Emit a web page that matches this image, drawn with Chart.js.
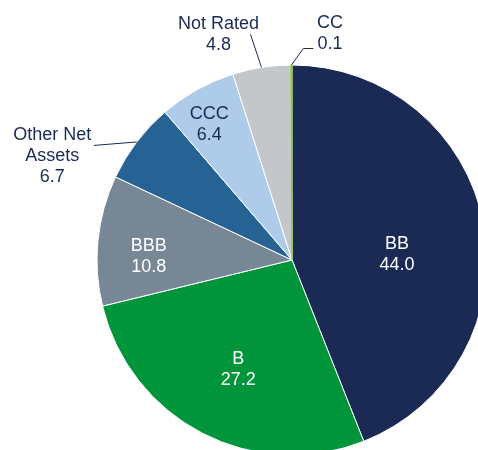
<!DOCTYPE html>
<html>
<head>
<meta charset="utf-8">
<script src="https://cdn.jsdelivr.net/npm/chart.js@4"></script>
<style>
  html, body { margin: 0; padding: 0; background: #fff; overflow: hidden; }
  #wrap { position: absolute; left: 0; top: 0; }
</style>
</head>
<body>
<div id="wrap"><canvas id="ratings" width="500" height="470"></canvas></div>
<script>
// credit quality breakdown (%), clockwise from 12 o'clock
var categories = ['BB', 'B', 'BBB', 'Other Net Assets', 'CCC', 'Not Rated', 'CC'];
var labelLines = [['BB'], ['B'], ['BBB'], ['Other Net', 'Assets'], ['CCC'], ['Not Rated'], ['CC']];
var values = [44.0, 27.2, 10.8, 6.7, 6.4, 4.8, 0.1];
var colors = ['#1b2a55', '#00953a', '#778795', '#276294', '#aecbe9', '#c4c7ca', '#8dc63f'];
// slice edges are white, except the tiny CC sliver which keeps its own colour
var edgeColors = ['#ffffff', '#ffffff', '#ffffff', '#ffffff', '#ffffff', '#ffffff', '#8dc63f'];

var darkText = '#1b2a55';

// where each label goes: inside the slice (radius fraction + small turn in degrees)
// or outside with a leader line (offsets from the slice's outer edge point)
var labelLayout = [
    { inside: true, r: 0.54, turn: 7, color: '#ffffff' },
    { inside: true, r: 0.62, turn: -1, color: '#ffffff' },
    { inside: true, r: 0.735, turn: -4, color: '#ffffff' },
    { inside: false, text: [-84.5, 13], leader: [[-43, 3.5]] },
    { inside: true, r: 0.82, turn: -2, color: darkText },
    { inside: false, text: [-43, -34], leader: [[-11, -33]] },
    { inside: false, text: [38.5, -33], leader: [[12, -16.5], [22, -16.5]] }
];

var labelPlugin = {
    id: 'sliceLabels',
    afterDatasetsDraw: function (chart) {
        var ctx = chart.ctx;
        var arcs = chart.getDatasetMeta(0).data;
        var lh = 21;
        ctx.save();
        ctx.font = '18px "Liberation Sans", Arial, sans-serif';
        ctx.textAlign = 'center';
        ctx.textBaseline = 'alphabetic';
        arcs.forEach(function (arc, i) {
            var p = arc.getProps(['x', 'y', 'startAngle', 'endAngle', 'outerRadius'], true);
            var mid = (p.startAngle + p.endAngle) / 2;
            var lay = labelLayout[i];
            var lines = labelLines[i].concat([values[i].toFixed(1)]);
            var cx, cy;
            if (lay.inside) {
                var a = mid + lay.turn * Math.PI / 180;
                cx = p.x + Math.cos(a) * p.outerRadius * lay.r;
                cy = p.y + Math.sin(a) * p.outerRadius * lay.r;
                ctx.fillStyle = lay.color;
            } else {
                var ex = p.x + Math.cos(mid) * p.outerRadius;
                var ey = p.y + Math.sin(mid) * p.outerRadius;
                ctx.strokeStyle = darkText;
                ctx.lineWidth = 1;
                ctx.beginPath();
                ctx.moveTo(ex, ey);
                lay.leader.forEach(function (pt) { ctx.lineTo(ex + pt[0], ey + pt[1]); });
                ctx.stroke();
                cx = ex + lay.text[0];
                cy = ey + lay.text[1];
                ctx.fillStyle = darkText;
            }
            lines.forEach(function (t, k) {
                var yy = cy + (k - (lines.length - 1) / 2) * lh + 6.4;
                ctx.fillText(t, cx, yy);
            });
        });
        ctx.restore();
    }
};

var ctx = document.getElementById('ratings').getContext('2d');
var chart = new Chart(ctx, {
    type: 'pie',
    data: {
        labels: categories,
        datasets: [{
            data: values,
            backgroundColor: colors,
            borderColor: edgeColors,
            borderWidth: 1
        }]
    },
    options: {
        responsive: false,
        animation: false,
        layout: { padding: { left: 96.5, top: 64.5, right: 12.5, bottom: 14.5 } },
        plugins: {
            legend: { display: false },
            tooltip: { enabled: false }
        }
    },
    plugins: [labelPlugin]
});
</script>
</body>
</html>
